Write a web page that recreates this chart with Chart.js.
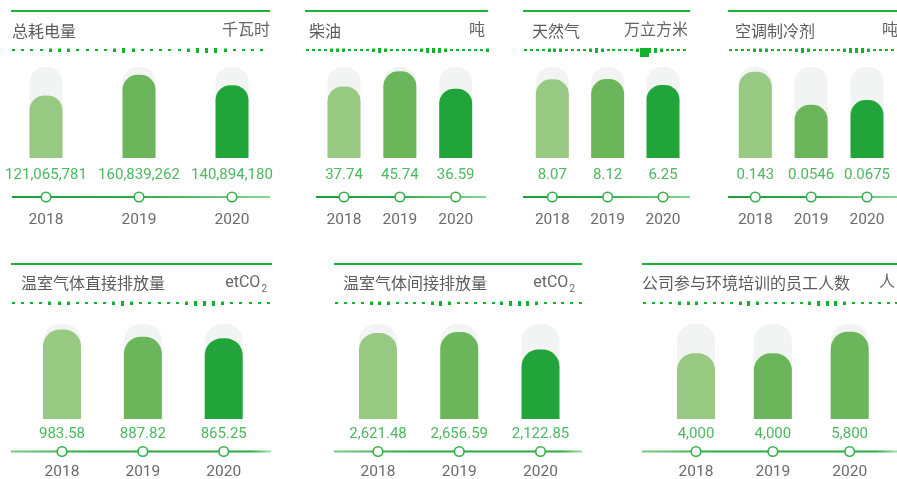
<!DOCTYPE html>
<html>
<head>
<meta charset="utf-8">
<script src="https://cdn.jsdelivr.net/npm/chart.js@4.4.1/dist/chart.umd.min.js"></script>
<style>
  html, body { margin: 0; padding: 0; background: #fff; }
  #wrap { position: relative; width: 897px; height: 479px; overflow: hidden; }
  #wrap canvas { position: absolute; left: 0; top: 0; }
</style>
</head>
<body>
<div id="wrap"></div>
<script>
const years = ['2018', '2019', '2020'];
const titles = ['总耗电量', '柴油', '天然气', '空调制冷剂', '温室气体直接排放量', '温室气体间接排放量', '公司参与环境培训的员工人数'];
const units = ['千瓦时', '吨', '万立方米', '吨', 'etCO₂', 'etCO₂', '人'];

const electricity = [121065781, 160839262, 140894180];
const diesel = [37.74, 45.74, 36.59];
const naturalGas = [8.07, 8.12, 6.25];
const refrigerant = [0.143, 0.0546, 0.0675];
const ghgDirect = [983.58, 887.82, 865.25];
const ghgIndirect = [2621.48, 2656.59, 2122.85];
const trainees = [4000, 4000, 5800];

const panelValues = [electricity, diesel, naturalGas, refrigerant, ghgDirect, ghgIndirect, trainees];
const decimals = [0, 2, 2, -1, 2, 2, 0];

// value axis range of each small chart (axes are hidden)
const scaleMin = [0, 0, -17.2, -0.088, -216, 0, -1475];
const scaleMax = [176e6, 48, 12, 0.156, 1058, 2900, 6442];

const LIGHT = '#98c982', MID = '#6bb65a', DARK = '#21a53a';
const TRACK = '#f2f4f3';

const rows = {
  top: { frameY: 11, titleY: 31, dotY: 50, bgTop: 67, bgBottom: 158, valueY: 175, lineY: 197, yearY: 220, barW: 33, radius: 15 },
  bottom: { frameY: 264, titleY: 283, dotY: 303, bgTop: 324, bgBottom: 419, valueY: 434, lineY: 451.5, yearY: 472, barW: 38, radius: 17 }
};

const panels = [
  { row: 'top', x0: 11, x1: 270, lineX0: 12, lineX1: 270, c0: 46, c2: 232, titleX: 12, unitX: 270, unitAlign: 'right', dotStep: 9.2, colors: [LIGHT, MID, DARK] },
  { row: 'top', x0: 305, x1: 488, lineX0: 316, lineX1: 486, c0: 344, c2: 455.7, titleX: 309, unitX: 485, unitAlign: 'right', dotStep: 6, colors: [LIGHT, MID, DARK] },
  { row: 'top', x0: 523, x1: 690, lineX0: 523, lineX1: 690, c0: 552.3, c2: 663, titleX: 532, unitX: 688, unitAlign: 'right', dotStep: 5.9, colors: [LIGHT, MID, DARK], square: 640 },
  { row: 'top', x0: 728, x1: 897, lineX0: 728, lineX1: 897, c0: 755.3, c2: 867, titleX: 735, unitX: 882, unitAlign: 'left', dotStep: 6, colors: [LIGHT, MID, DARK] },
  { row: 'bottom', x0: 11, x1: 272, lineX0: 11, lineX1: 271, c0: 62, c2: 223.7, titleX: 21, unitX: 267, unitAlign: 'right', dotStep: 9.1, colors: [LIGHT, MID, DARK] },
  { row: 'bottom', x0: 334, x1: 582, lineX0: 334, lineX1: 582, c0: 378, c2: 540.5, titleX: 343, unitX: 575, unitAlign: 'right', dotStep: 8.7, colors: [LIGHT, MID, DARK] },
  { row: 'bottom', x0: 642, x1: 897, lineX0: 642, lineX1: 897, c0: 696, c2: 849.7, titleX: 642, unitX: 879, unitAlign: 'left', dotStep: 8.7, colors: [LIGHT, MID, MID] }
];

// decorative dash sizes along the dotted rule (0 small, 1 medium, 2 tall)
const dashPattern = [0,0,0,0,1,1,1,0,0,0,0,1,2,1,0,0,0,0,0,1,2,2,2,1,0,0,0,0,0,0,1,0,0,2,0,1];

function fmt(v, d) {
  return v.toLocaleString('en-US', {
    minimumFractionDigits: d < 0 ? 0 : d,
    maximumFractionDigits: d < 0 ? 4 : d
  });
}

function drawUnit(ctx, text, x, y, align) {
  const sub = text.indexOf('₂');
  ctx.textBaseline = 'middle';
  if (sub < 0) {
    ctx.font = '16px Roboto, "Noto Sans CJK SC"';
    ctx.textAlign = align;
    ctx.fillText(text, x, y);
    return;
  }
  const main = text.slice(0, sub);
  ctx.font = '16px Roboto';
  const w1 = ctx.measureText(main).width;
  ctx.font = '10px Roboto';
  const w2 = ctx.measureText('2').width + 1;
  const left = align === 'right' ? x - w1 - w2 : x;
  ctx.textAlign = 'left';
  ctx.font = '16px Roboto';
  ctx.fillText(main, left, y);
  ctx.font = '10px Roboto';
  ctx.fillText('2', left + w1 + 1, y + 6);
}

const decorPlugin = {
  id: 'decor',
  afterDatasetsDraw(chart, args, opts) {
    const p = opts.panel;
    const r = rows[p.row];
    const ctx = chart.ctx;
    ctx.save();

    // top rule
    ctx.fillStyle = '#1fb23b';
    ctx.fillRect(p.x0, r.frameY - 1, p.x1 - p.x0, 2);

    // title and unit
    ctx.fillStyle = '#5b5b5b';
    ctx.font = '16px "Noto Sans CJK SC"';
    ctx.textAlign = 'left';
    ctx.textBaseline = 'middle';
    ctx.fillText(opts.title, p.titleX, r.titleY);
    ctx.fillStyle = '#666';
    drawUnit(ctx, opts.unit, p.unitX, r.titleY, p.unitAlign);

    // dotted rule
    ctx.fillStyle = '#12b22e';
    let k = 0;
    for (let x = p.x0 + 1; x < p.x1 - 1; x += p.dotStep, k++) {
      const s = dashPattern[k % dashPattern.length];
      if (s === 0) ctx.fillRect(Math.round(x), r.dotY - 1, 3, 2);
      else if (s === 1) ctx.fillRect(Math.round(x), r.dotY - 1.5, 3, 3.5);
      else ctx.fillRect(Math.round(x), r.dotY - 2, 3, 5);
    }
    if (p.square) ctx.fillRect(p.square, r.dotY - 2, 9, 9);

    // timeline
    const g = ctx.createLinearGradient(p.lineX0, 0, p.lineX1, 0);
    if (p.row === 'top') {
      g.addColorStop(0, '#1e9f36');
      g.addColorStop(0.45, '#2aa941');
      g.addColorStop(1, '#8ad692');
    } else {
      g.addColorStop(0, '#79cd83');
      g.addColorStop(0.3, '#2aa941');
      g.addColorStop(0.92, '#2aa941');
      g.addColorStop(1, '#a3dfaa');
    }
    ctx.fillStyle = g;
    ctx.fillRect(p.lineX0, r.lineY - 1, p.lineX1 - p.lineX0, 2);

    const meta = chart.getDatasetMeta(0);
    const vals = chart.data.datasets[0].data;
    meta.data.forEach((bar, i) => {
      const x = bar.x;
      ctx.textAlign = 'center';
      ctx.textBaseline = 'middle';
      ctx.fillStyle = '#4cb85f';
      ctx.font = '15px Roboto';
      ctx.fillText(fmt(vals[i], opts.decimals), x, r.valueY);

      ctx.beginPath();
      ctx.arc(x, r.lineY, 4.8, 0, Math.PI * 2);
      ctx.fillStyle = '#fff';
      ctx.fill();
      ctx.lineWidth = 1.6;
      ctx.strokeStyle = '#34b04b';
      ctx.stroke();

      ctx.fillStyle = '#6b6b6b';
      ctx.font = '15.5px Roboto';
      ctx.fillText(chart.data.labels[i], x, r.yearY);
    });
    ctx.restore();
  }
};

const wrap = document.getElementById('wrap');

panels.forEach((p, idx) => {
  const r = rows[p.row];
  const canvas = document.createElement('canvas');
  canvas.width = 897;
  canvas.height = 479;
  wrap.appendChild(canvas);

  const min = scaleMin[idx];
  const max = scaleMax[idx];
  const barStyle = {
    grouped: false,
    barThickness: r.barW,
    base: min,
    borderRadius: { topLeft: r.radius, topRight: r.radius, bottomLeft: 0, bottomRight: 0 },
    borderSkipped: false,
    inflateAmount: 0,
    clip: false
  };

  new Chart(canvas.getContext('2d'), {
    type: 'bar',
    data: {
      labels: years,
      datasets: [
        Object.assign({ data: panelValues[idx], backgroundColor: p.colors }, barStyle),
        Object.assign({ data: years.map(() => max), backgroundColor: TRACK }, barStyle)
      ]
    },
    options: {
      responsive: false,
      animation: false,
      events: [],
      layout: {
        padding: { left: p.c0, right: 897 - p.c2, top: r.bgTop, bottom: 479 - r.bgBottom }
      },
      scales: {
        x: { display: false, offset: false },
        y: { display: false, min: min, max: max }
      },
      plugins: {
        legend: { display: false },
        tooltip: { enabled: false },
        decor: { panel: p, title: titles[idx], unit: units[idx], decimals: decimals[idx] }
      }
    },
    plugins: [decorPlugin]
  });
});
</script>
</body>
</html>
